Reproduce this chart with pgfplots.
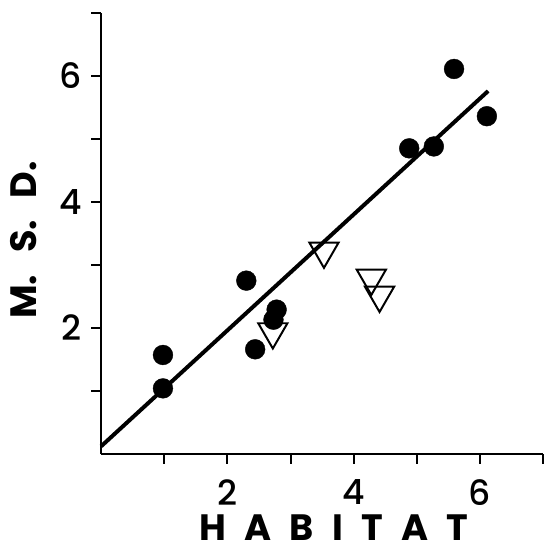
\documentclass[border=0pt]{standalone}
\usepackage{fontspec}
\setmainfont{Poppins}
\newfontfamily\medfont{Poppins}[UprightFont={* Medium}]
\usepackage{pgfplots}
\pgfplotsset{compat=1.18}
\begin{document}
\begin{tikzpicture}[x=1pt,y=1pt]
\begin{axis}[
  at={(0,0)}, anchor=south west,
  width=446pt, height=445pt, scale only axis,
  xmin=0, xmax=7, ymin=0, ymax=7,
  axis x line=bottom, axis y line=left,
  axis line style={-, line width=2.5pt},
  xtick={2,4,6}, ytick={2,4,6},
  minor xtick={1,3,5,7}, minor ytick={1,3,5,7},
  tick align=outside, major tick length=10pt, minor tick length=10pt,
  every tick/.style={line width=2pt, black},
  ticklabel style={font=\medfont\fontsize{35}{38}\selectfont},
  xticklabel style={yshift=-12pt},
  yticklabel style={xshift=-6pt},
  /pgf/number format/assume math mode=true,
  xlabel={\bfseries H\hspace{0.5em}A\hspace{0.5em}B\hspace{0.5em}I\hspace{0.5em}T\hspace{0.5em}A\hspace{0.5em}T},
  ylabel={\bfseries M.\hspace{0.6em}S.\hspace{0.6em}D.},
  xlabel style={font=\fontsize{37}{40}\selectfont, at={(axis description cs:0.527,0)}, anchor=center, yshift=-74pt, inner sep=0pt},
  ylabel style={font=\fontsize{37}{40}\selectfont, at={(axis description cs:0,0.485)}, anchor=center, yshift=78pt, inner sep=0pt},
  clip=false,
]
\addplot[line width=4pt, black] coordinates {(0,0.12) (6.13,5.76)};
\addplot[only marks, mark=triangle, mark size=17pt, mark options={rotate=180, fill=white, draw=black, line width=2pt}] coordinates {
(3.53,3.22) (4.28,2.79) (4.41,2.52) (2.72,1.94)};
\addplot[only marks, mark=*, mark size=10pt, mark options={fill=black, draw=black}] coordinates {
(0.98,1.57) (0.98,1.04) (2.30,2.75) (2.44,1.66) (2.78,2.29) (2.73,2.13)
(5.59,6.11) (6.11,5.36) (4.88,4.85) (5.27,4.88)};
\end{axis}
\useasboundingbox (-102,-100) rectangle (447,458);
\end{tikzpicture}
\end{document}
